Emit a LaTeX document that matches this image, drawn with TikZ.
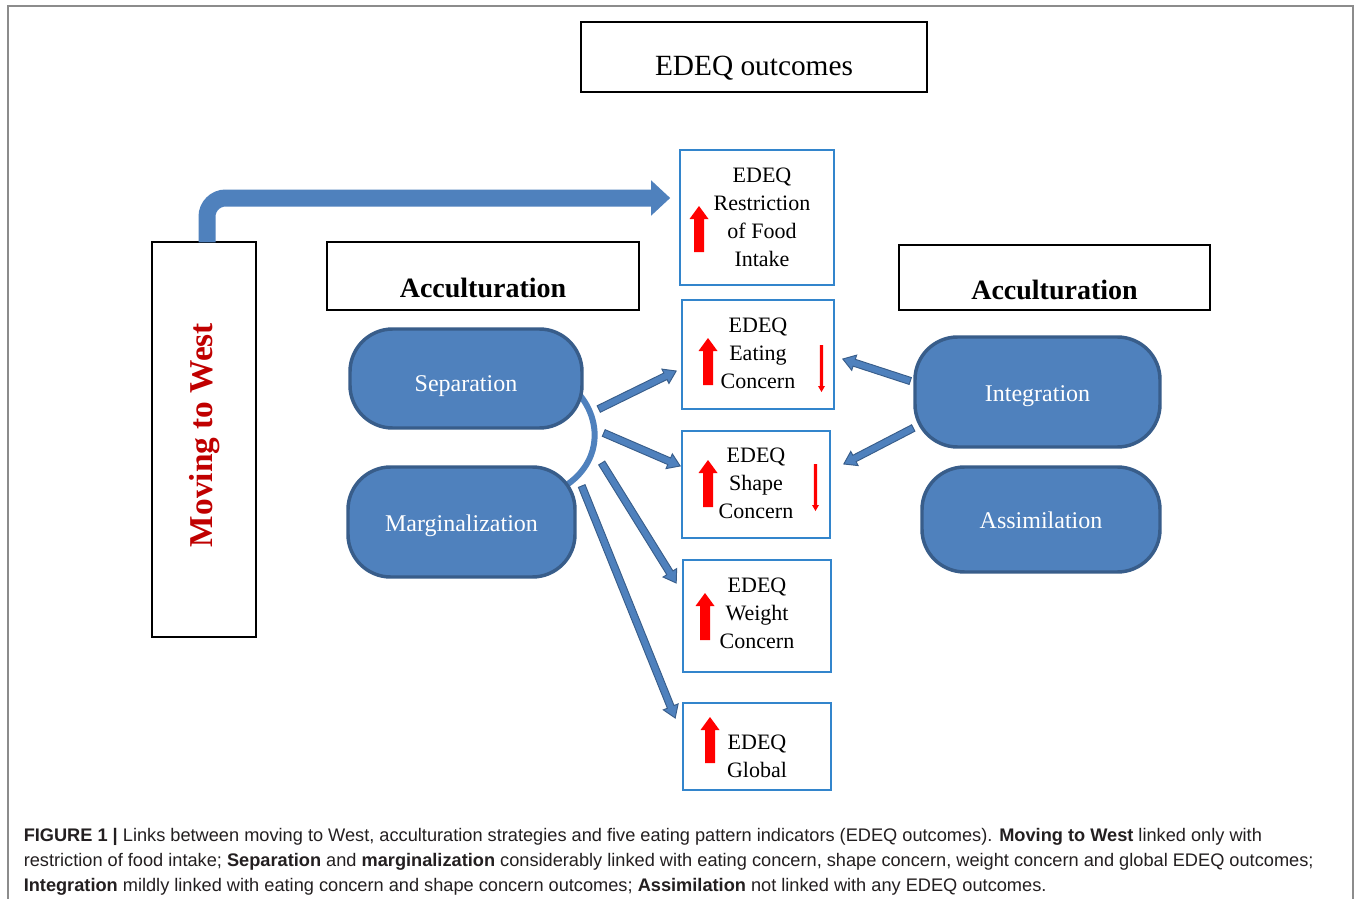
\documentclass[tikz,border=0pt]{standalone}
\usepackage{fontspec}
\setmainfont{Liberation Serif}
\newfontfamily\capfont{Liberation Sans}
\usetikzlibrary{calc,arrows.meta}
\definecolor{obl}{HTML}{4F81BD}
\definecolor{obd}{HTML}{385D8A}
\definecolor{bbox}{HTML}{3385CC}
\definecolor{mwred}{HTML}{C00000}
\definecolor{capc}{HTML}{231F20}
\definecolor{frm}{HTML}{8C8C8C}
\newcommand\blkarrow[2]{%
  \coordinate (bah) at ($(#2)!9pt!(#1)$);
  \filldraw[conn] ($(#1)!2.7pt!90:(#2)$) -- ($(bah)!2.7pt!90:(#2)$) -- ($(bah)!6pt!90:(#2)$) -- (#2)
    -- ($(bah)!6pt!-90:(#2)$) -- ($(bah)!2.7pt!-90:(#2)$) -- ($(#1)!2.7pt!-90:(#2)$) -- cycle;}
\newcommand\redup[3]{\fill[red] (#1-5,#3) -- (#1-5,#2+13) -- (#1-9.5,#2+13) -- (#1,#2) -- (#1+9.5,#2+13) -- (#1+5,#2+13) -- (#1+5,#3) -- cycle;}
\newcommand\reddown[3]{\fill[red] (#1-1.6,#2) -- (#1-1.6,#3-6) -- (#1-3.5,#3-6) -- (#1,#3) -- (#1+3.5,#3-6) -- (#1+1.6,#3-6) -- (#1+1.6,#2) -- cycle;}
\begin{document}
\begin{tikzpicture}[x=0.75pt,y=-0.75pt,
  hdr/.style={draw=black, line width=1.1pt, inner sep=0pt},
  hdrtext/.style={font=\fontsize{21}{26}\selectfont\bfseries, inner sep=0pt, anchor=base},
  outbox/.style={draw=bbox, line width=1.2pt, inner sep=0pt, align=center, font=\fontsize{16.5}{21}\selectfont},
  pill/.style={fill=obl, draw=obd, line width=2.6pt, rounded corners=32pt, text=white, font=\fontsize{18}{22}\selectfont, inner sep=0pt, text height=16.5pt, text depth=3pt},
  conn/.style={fill=obl, draw=obd, line width=0.7pt},
  bigarrow/.style={obl, line width=12.75pt, rounded corners=14pt, -{Triangle[length=14.25pt,width=25.5pt]}},
  captxt/.style={font=\capfont\fontsize{13.65}{18}\selectfont, text=capc, anchor=base west, inner sep=0pt}
]
\useasboundingbox (0,0) rectangle (1357,899);
\fill[white] (0,0) rectangle (1357,899);
% frame
\draw[frm, line width=1.1pt] (8,899) -- (8,6) -- (1353,6) -- (1353,899);

% header boxes
\node[hdr, minimum width=346*0.75pt, minimum height=70*0.75pt] (edeqbox) at (754,57) {};
\node[hdrtext, font=\fontsize{22}{26}\selectfont] (edeqt) at ($(edeqbox.center)+(0,19)$) {EDEQ outcomes};
\node[hdr, minimum width=312*0.75pt, minimum height=68*0.75pt] (accL) at (483,276) {};
\node[hdrtext] (accLt) at ($(accL.center)+(0,21)$) {Acculturation};
\node[hdr, minimum width=311*0.75pt, minimum height=65*0.75pt] (accR) at (1054.5,277.5) {};
\node[hdrtext] (accRt) at ($(accR.center)+(0,22)$) {Acculturation};

% moving to west
\node[hdr, minimum width=104*0.75pt, minimum height=395*0.75pt] (mw) at (204,439.5) {};
\node[rotate=90, text=mwred, font=\fontsize{25}{29}\selectfont\bfseries, inner sep=0pt] (mwt) at (205,435) {Moving to West};

% outcome boxes
\node[outbox, minimum width=154*0.75pt, minimum height=135*0.75pt] (res) at (757,217.5) {};
\node[outbox, draw=none] (rest) at ($(res.center)+(5,0)$) {EDEQ\\Restriction\\of Food\\Intake};
\node[outbox, minimum width=152*0.75pt, minimum height=109*0.75pt] (eat) at (758,354.5) {};
\node[outbox, draw=none] (eatt) at ($(eat.center)+(0,-1)$) {EDEQ\\Eating\\Concern};
\node[outbox, minimum width=148*0.75pt, minimum height=107*0.75pt] (shp) at (756,484.5) {};
\node[outbox, draw=none] (shpt) at ($(shp.center)+(0,-1)$) {EDEQ\\Shape\\Concern};
\node[outbox, minimum width=148*0.75pt, minimum height=112*0.75pt] (wgt) at (757,616) {};
\node[outbox, draw=none] (wgtt) at ($(wgt.center)+(0,-3)$) {EDEQ\\Weight\\Concern};
\node[outbox, minimum width=148*0.75pt, minimum height=87*0.75pt] (glob) at (757,746.5) {};
\node[outbox, draw=none] (globt) at ($(glob.center)+(0,9.5)$) {EDEQ\\Global};

% red arrows
\redup{699}{206}{252}
\redup{708}{338}{385}
\reddown{821.5}{345}{392}
\redup{708}{460}{507}
\reddown{815.5}{464}{511}
\redup{705}{593}{640}
\redup{710}{717}{763}

% arc between separation and marginalization
\coordinate (arcS) at (578,393);
\coordinate (arcE) at (565,486);
\draw[obl, line width=4.5pt] (arcS) .. controls (602,420) and (602,462) .. (arcE);

% pills
\node[pill, minimum width=232*0.75pt, minimum height=99*0.75pt, text height=23pt] (sep) at (466,378.5) {Separation};
\node[pill, minimum width=227*0.75pt, minimum height=110*0.75pt] (mar) at (461.5,522) {Marginalization};
\node[pill, minimum width=245*0.75pt, minimum height=110*0.75pt] (int) at (1037.5,392) {Integration};
\node[pill, minimum width=238*0.75pt, minimum height=105*0.75pt] (ass) at (1041,519.5) {Assimilation};

% big arrow moving to west -> restriction
\draw[bigarrow] ($(mw.north)+(3,1)$) |- ($(res.west)+(-9,-19.5)$);

% connector arrows
\coordinate (s1) at ($(sep.east)+(15,30.5)$);
\coordinate (t1) at ($(eat.west)+(-5,16.5)$);
\coordinate (s2) at ($(sep.east)+(20,54.5)$);
\coordinate (t2) at ($(shp.west)+(-1,-18.5)$);
\coordinate (s3) at ($(mar.east)+(25,-59)$);
\coordinate (t3) at ($(wgt.west)+(-6,-33)$);
\coordinate (s4) at ($(mar.east)+(5,-36)$);
\coordinate (t4) at ($(glob.west)+(-7,-28.5)$);
\coordinate (s5) at ($(int.west)+(-3,-11)$);
\coordinate (t5) at ($(eat.east)+(8,4.5)$);
\coordinate (s6) at ($(int.west)+(0,36)$);
\coordinate (t6) at ($(shp.east)+(13,-20.5)$);
\blkarrow{s1}{t1}
\blkarrow{s2}{t2}
\blkarrow{s3}{t3}
\blkarrow{s4}{t4}
\blkarrow{s5}{t5}
\blkarrow{s6}{t6}

% caption
\node[captxt] (cap1) at (23.5,841) {\textbf{FIGURE 1 |} Links between moving to West, acculturation strategies and five eating pattern indicators (EDEQ outcomes). \textbf{Moving to West} linked only with};
\node[captxt] (cap2) at (23.5,866) {restriction of food intake; \textbf{Separation} and \textbf{marginalization} considerably linked with eating concern, shape concern, weight concern and global EDEQ outcomes;};
\node[captxt] (cap3) at (23.5,891) {\textbf{Integration} mildly linked with eating concern and shape concern outcomes; \textbf{Assimilation} not linked with any EDEQ outcomes.};
\end{tikzpicture}
\end{document}
